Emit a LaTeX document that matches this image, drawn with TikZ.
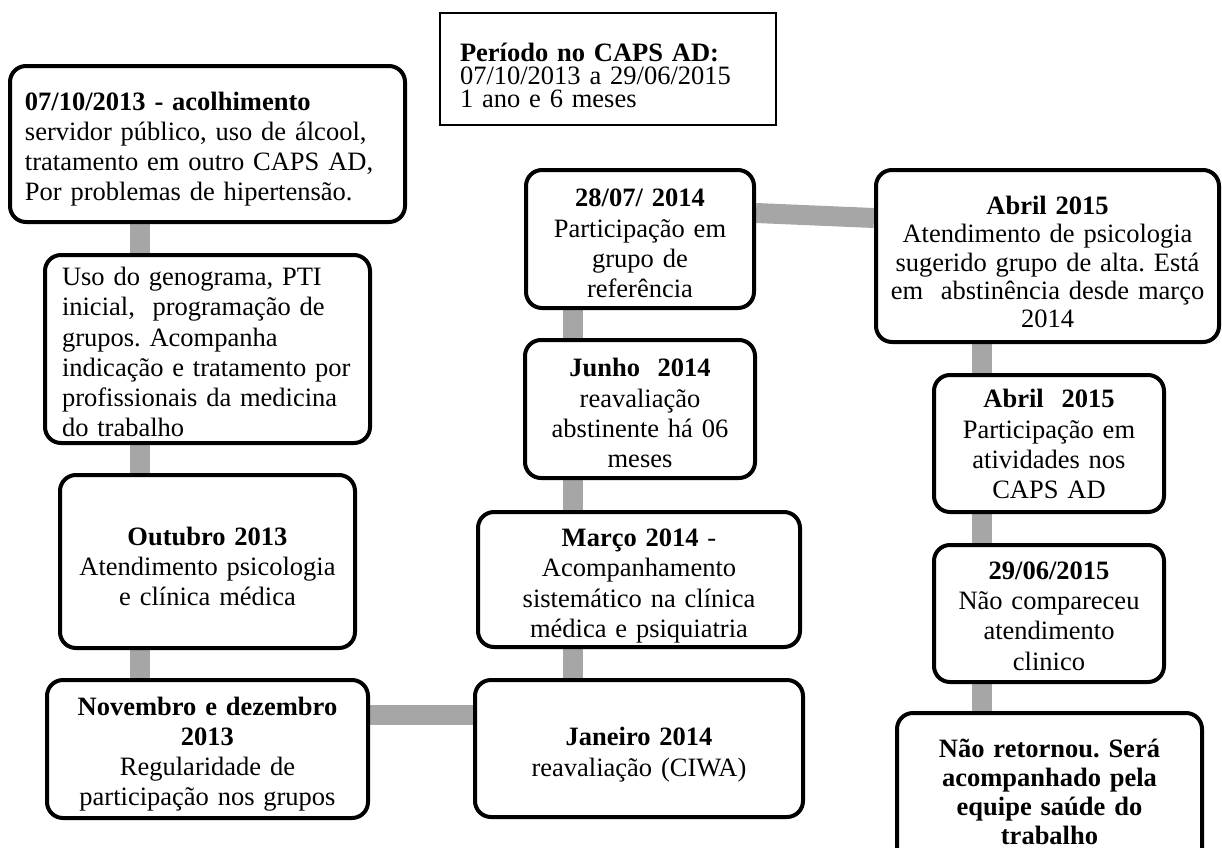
\documentclass[tikz,border=0pt]{standalone}
\usepackage{fontspec}
\setmainfont{Liberation Serif}
\newfontfamily\tnrfont{Liberation Serif}
\usetikzlibrary{backgrounds}
\newcommand{\myup}[1]{\rule{0pt}{#1}}
\begin{document}
\frenchspacing
\begin{tikzpicture}[x=0.5pt,y=-0.5pt,
  evbox/.style={draw=black,line width=2pt,rounded corners=8pt,fill=white,inner sep=0pt,
    font=\tnrfont\fontsize{13.25pt}{15.15pt}\selectfont\frenchspacing},
  cbox/.style={evbox,align=center},
  lbox/.style={evbox,align=left},
  infobox/.style={draw=black,line width=0.6pt,fill=white,inner sep=0pt,align=left,
    font=\tnrfont\fontsize{13.25pt}{11.5pt}\selectfont},
  conn/.style={draw={rgb,255:red,166;green,166;blue,166},line width=10pt}]
\useasboundingbox (0,0) rectangle (1222,847);
\clip (0,0) rectangle (1222,847);

% info box
\node[infobox,minimum width=168pt,minimum height=56pt,text width=148pt] (P) at (608,69)
  {\myup{15.5pt}\textbf{Período no CAPS AD:}\\07/10/2013 a 29/06/2015\\1 ano e 6 meses};

% column 1
\node[lbox,minimum width=197.5pt,minimum height=78pt,text width=182.5pt] (A) at (207.5,144)
  {\myup{14.3pt}\textbf{07/10/2013 - acolhimento}\\servidor público, uso de álcool,\\tratamento em outro CAPS AD,\\Por problemas de hipertensão.};
\node[lbox,minimum width=162.5pt,minimum height=94pt,text width=145.5pt] (B) at (207.5,349)
  {\myup{12.3pt}Uso do genograma, PTI\\inicial,\ \ programação de\\grupos. Acompanha\\indicação e tratamento por\\profissionais da medicina\\do trabalho};
\node[cbox,minimum width=147.5pt,minimum height=86.5pt,text width=140pt] (C) at (207.5,561.5)
  {\myup{14.3pt}\textbf{Outubro 2013}\\Atendimento psicologia\\e clínica médica};
\node[cbox,minimum width=160.5pt,minimum height=69pt,text width=155pt] (D) at (207.5,749)
  {\myup{14.3pt}\textbf{Novembro e dezembro}\\\textbf{2013}\\Regularidade de\\participação nos grupos};

% column 2
\node[cbox,minimum width=164pt,minimum height=68.5pt,text width=155pt] (E) at (639,748.5)
  {\myup{15.3pt}\textbf{Janeiro 2014}\\reavaliação (CIWA)};
\node[cbox,minimum width=161pt,minimum height=67.5pt,text width=155pt] (F) at (639,579.5)
  {\myup{15.3pt}\textbf{Março 2014} -\\Acompanhamento\\sistemático na clínica\\médica e psiquiatria};
\node[cbox,minimum width=115pt,minimum height=69pt,text width=110pt] (G) at (640,409)
  {\myup{13.3pt}\textbf{Junho\ \ 2014}\\reavaliação\\abstinente há 06\\meses};
\node[cbox,minimum width=114pt,minimum height=69pt,text width=110pt] (H) at (640,239)
  {\myup{13.3pt}\textbf{28/07/ 2014}\\Participação em\\grupo de\\referência};

% column 3
\node[cbox,minimum width=171.5pt,minimum height=86pt,text width=165pt,
  font=\tnrfont\fontsize{13.25pt}{14.2pt}\selectfont\frenchspacing] (I) at (1047.5,256)
  {\myup{15.3pt}\textbf{Abril 2015}\\Atendimento de psicologia\\sugerido grupo de alta. Está\\em\ \ abstinência desde março\\2014};
\node[cbox,minimum width=115pt,minimum height=68.5pt,text width=110pt] (J) at (1049,443.5)
  {\myup{10pt}\textbf{Abril\ \ 2015}\\Participação em\\atividades nos\\CAPS AD};
\node[cbox,minimum width=115pt,minimum height=68.5pt,text width=110pt] (K) at (1049,613.5)
  {\myup{11.3pt}\textbf{29/06/2015}\\Não compareceu\\atendimento\\clinico};
\node[cbox,minimum width=152.5pt,minimum height=77pt,text width=145pt,
  font=\tnrfont\fontsize{13.25pt}{14.4pt}\selectfont\bfseries\frenchspacing] (L) at (1049.5,790)
  {\myup{11pt}Não retornou. Será\\acompanhado pela\\equipe saúde do\\trabalho};

% connector guide coordinates
\coordinate (cx1) at (140,0);
\coordinate (cx2) at (573,0);
\coordinate (cx3) at (982,0);
\coordinate (cyde) at (0,715);
\coordinate (cyh) at (0,213);
\coordinate (cyi) at (0,218);

\begin{scope}[on background layer]
\draw[conn] (A.south -| cx1) -- (B.north -| cx1);
\draw[conn] (B.south -| cx1) -- (C.north -| cx1);
\draw[conn] (C.south -| cx1) -- (D.north -| cx1);
\draw[conn] (D.east |- cyde) -- (E.west |- cyde);
\draw[conn] (E.north -| cx2) -- (F.south -| cx2);
\draw[conn] (F.north -| cx2) -- (G.south -| cx2);
\draw[conn] (G.north -| cx2) -- (H.south -| cx2);
\draw[conn] (H.east |- cyh) -- (I.west |- cyi);
\draw[conn] (I.south -| cx3) -- (J.north -| cx3);
\draw[conn] (J.south -| cx3) -- (K.north -| cx3);
\draw[conn] (K.south -| cx3) -- (L.north -| cx3);
\end{scope}
\end{tikzpicture}
\end{document}
